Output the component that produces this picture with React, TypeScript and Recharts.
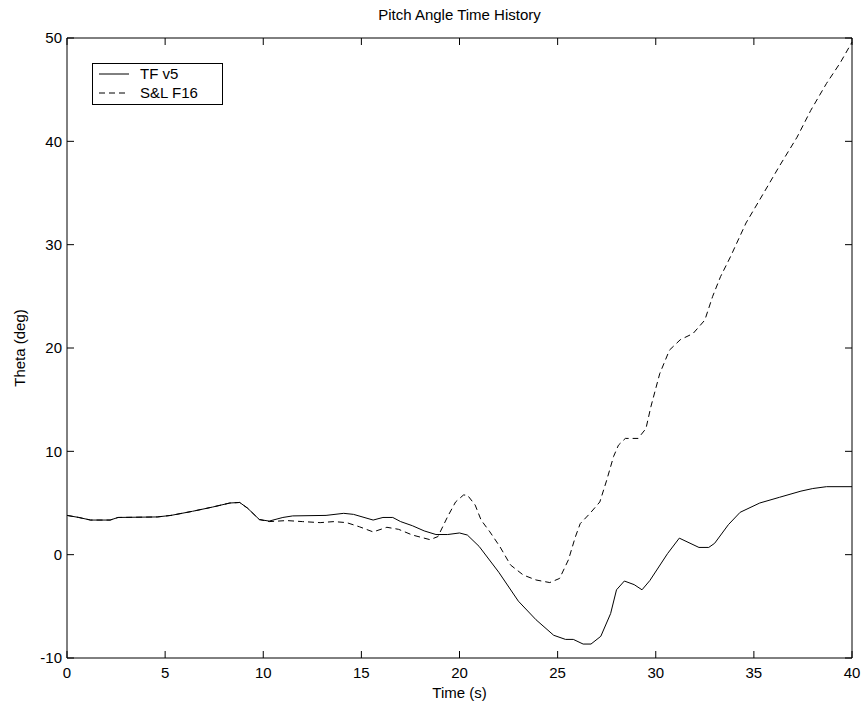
import { LineChart, Line, XAxis, YAxis } from 'recharts';

// Time (s) / pitch angle (deg) samples for each model
const tfTime = [0, 0.6, 1.2, 2.2, 2.6, 4.6, 5.3, 6.4, 7.4, 8.3, 8.8, 9.2, 9.8, 10.3, 11.0, 11.5, 13.2, 14.1, 14.6, 15.6, 16.1, 16.6, 17.0, 17.6, 18.2, 18.8, 19.4, 20.0, 20.4, 21.0, 22.0, 23.0, 23.9, 24.8, 25.4, 25.8, 26.3, 26.7, 27.2, 27.7, 28.0, 28.4, 28.9, 29.3, 29.7, 30.6, 31.2, 32.2, 32.7, 33.0, 33.7, 34.3, 35.3, 36.3, 37.4, 38.0, 38.7, 40];
const tfTheta = [3.8, 3.6, 3.35, 3.35, 3.6, 3.65, 3.8, 4.2, 4.6, 5.0, 5.05, 4.5, 3.4, 3.25, 3.6, 3.75, 3.8, 4.0, 3.9, 3.35, 3.6, 3.6, 3.2, 2.8, 2.3, 1.95, 1.95, 2.1, 1.9, 0.8, -1.7, -4.5, -6.3, -7.8, -8.2, -8.2, -8.65, -8.65, -7.9, -5.7, -3.4, -2.55, -2.9, -3.4, -2.5, 0.1, 1.6, 0.7, 0.7, 1.1, 2.9, 4.1, 5.0, 5.55, 6.15, 6.4, 6.58, 6.58];

const slTime = [0, 0.6, 1.2, 2.2, 2.6, 4.6, 5.3, 6.4, 7.4, 8.3, 8.8, 9.2, 9.8, 10.3, 11.2, 12.0, 12.9, 13.6, 14.25, 14.9, 15.6, 16.3, 16.9, 17.6, 18.5, 18.9, 19.4, 19.8, 20.2, 20.4, 20.8, 21.1, 21.55, 22.06, 22.6, 23.25, 23.9, 24.6, 25.1, 25.55, 25.9, 26.15, 26.65, 27.15, 27.5, 27.85, 28.1, 28.45, 29.1, 29.5, 29.75, 30.2, 30.7, 31.25, 31.9, 32.5, 32.9, 33.3, 33.8, 34.6, 35.5, 36.3, 37.2, 37.9, 38.7, 39.4, 40];
const slTheta = [3.8, 3.6, 3.35, 3.35, 3.6, 3.65, 3.8, 4.2, 4.6, 5.0, 5.05, 4.5, 3.4, 3.2, 3.3, 3.2, 3.1, 3.2, 3.1, 2.7, 2.2, 2.65, 2.45, 1.9, 1.45, 1.75, 3.7, 5.1, 5.77, 5.77, 4.8, 3.35, 2.2, 0.77, -1.0, -1.97, -2.45, -2.7, -2.3, -0.5, 1.7, 3.0, 4.0, 5.1, 7.2, 9.5, 10.6, 11.25, 11.25, 12.2, 14.3, 17.5, 19.8, 20.8, 21.4, 22.7, 25.0, 26.9, 28.8, 32.1, 35.0, 37.6, 40.4, 43.0, 45.6, 47.6, 49.6];

const xTicks = [0, 5, 10, 15, 20, 25, 30, 35, 40];
const yTicks = [-10, 0, 10, 20, 30, 40, 50];

const tfData = tfTime.map((t, i) => ({ t, theta: tfTheta[i] }));
const slData = slTime.map((t, i) => ({ t, theta: slTheta[i] }));

const FONT = 'Arial, "Liberation Sans", Helvetica, sans-serif';
const textStyle = { fontSize: 15, fill: '#000', fontFamily: FONT };
const blank = () => '';

const series = [
    { name: 'TF v5', dash: undefined },
    { name: 'S&L F16', dash: '6 4' },
];

// boxed legend in the upper-left corner of the axes
function LegendBox() {
    return (
        <svg width={131} height={42} style={{ position: 'absolute', left: 92, top: 63 }}>
            <rect x={0.5} y={0.5} width={130} height={41} fill="#fff" stroke="#000" />
            {series.map((s, i) => (
                <g key={s.name}>
                    <line x1={7} x2={37} y1={11 + i * 19} y2={11 + i * 19} stroke="#000" strokeDasharray={s.dash} />
                    <text x={48} y={16 + i * 19} fontSize={15} fontFamily={FONT} fill="#000">{s.name}</text>
                </g>
            ))}
        </svg>
    );
}

export default function App() {
    return (
        <div style={{ position: 'absolute', left: 0, top: 0, width: 865, height: 709, background: '#fff' }}>
            <LineChart width={865} height={709} margin={{ top: 37, right: 12, bottom: 0, left: 0 }}>
                <XAxis
                    xAxisId="bottom" dataKey="t" type="number" domain={[0, 40]} ticks={xTicks} interval={0}
                    height={51} tickSize={-7} tickMargin={16} tick={textStyle}
                    axisLine={{ stroke: '#000' }} tickLine={{ stroke: '#000' }}
                    label={{ value: 'Time (s)', position: 'insideBottom', offset: 11, style: textStyle }}
                />
                <XAxis
                    xAxisId="top" orientation="top" dataKey="t" type="number" domain={[0, 40]} ticks={xTicks} interval={0}
                    height={1} tickSize={-7} tickFormatter={blank}
                    axisLine={{ stroke: '#000' }} tickLine={{ stroke: '#000' }}
                    label={{ value: 'Pitch Angle Time History', position: 'top', offset: 17, style: textStyle }}
                />
                <YAxis
                    yAxisId="left" type="number" domain={[-10, 50]} ticks={yTicks} interval={0}
                    width={67} tickSize={-7} tickMargin={12} tick={textStyle}
                    axisLine={{ stroke: '#000' }} tickLine={{ stroke: '#000' }}
                    label={{ value: 'Theta (deg)', angle: -90, position: 'insideLeft', offset: 20, style: { ...textStyle, textAnchor: 'middle' } }}
                />
                <YAxis
                    yAxisId="right" orientation="right" type="number" domain={[-10, 50]} ticks={yTicks} interval={0}
                    width={1} tickSize={-7} tickFormatter={blank}
                    axisLine={{ stroke: '#000' }} tickLine={{ stroke: '#000' }}
                />
                <Line data={tfData} xAxisId="bottom" yAxisId="left" dataKey="theta" name="TF v5" type="linear"
                    stroke="#000" strokeWidth={1} dot={false} isAnimationActive={false} />
                <Line data={slData} xAxisId="bottom" yAxisId="left" dataKey="theta" name="S&L F16" type="linear"
                    stroke="#000" strokeWidth={1} strokeDasharray="6 4" dot={false} isAnimationActive={false} />
                <Line data={tfData} xAxisId="top" yAxisId="right" dataKey="theta" stroke="none" dot={false}
                    legendType="none" isAnimationActive={false} />
            </LineChart>
            <LegendBox />
        </div>
    );
}
